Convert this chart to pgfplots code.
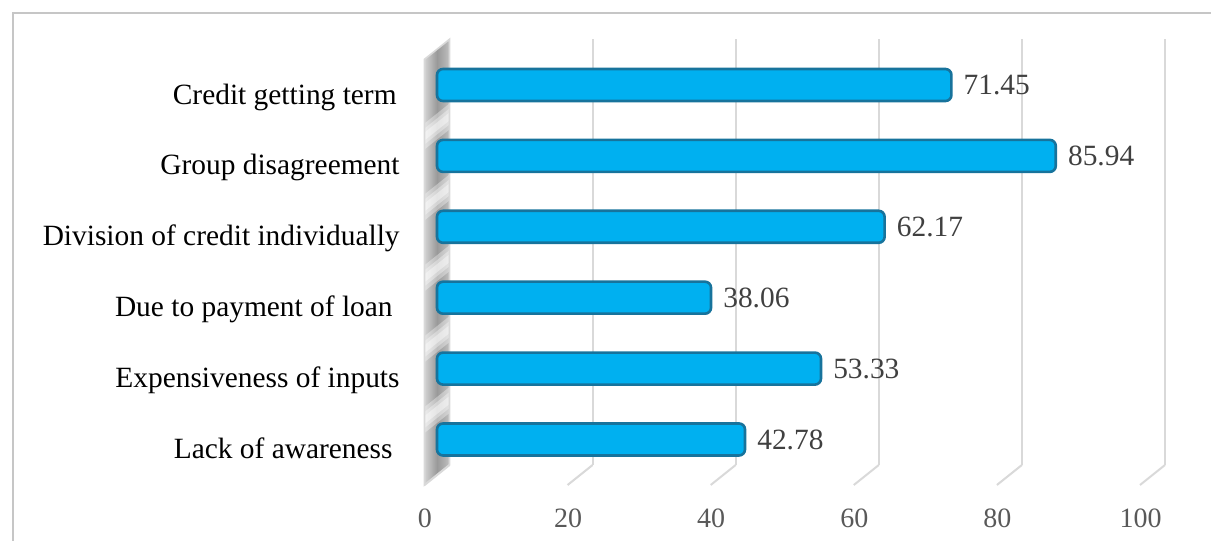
\documentclass[border=0pt]{standalone}
\usepackage{fontspec}
\setmainfont{Liberation Serif}
\usepackage{pgfplots}
\usepackage{pgfplotstable}
\pgfplotsset{compat=1.18}
\definecolor{gridc}{HTML}{D9D9D9}
\definecolor{barc}{HTML}{00B0F0}
\definecolor{bare}{HTML}{17739C}
\definecolor{tickc}{HTML}{595959}
\definecolor{valc}{HTML}{404040}

\pgfplotstableread{
y v
0 42.78
1 53.33
2 38.06
3 62.17
4 85.94
5 71.45
}\datatable

\begin{document}
\begin{tikzpicture}
\path[use as bounding box] (0,0) rectangle (605.5pt,270.5pt);
\draw[gray!45, line width=1pt] (6.5pt,-5pt) -- (6.5pt,264pt) -- (620pt,264pt);
\begin{axis}[
 at={(224.75pt,38pt)}, anchor=south west, scale only axis,
 width=357.75pt, height=212.85pt,
 xmin=0, xmax=100, ymin=-0.36, ymax=5.645,
 axis line style={draw=none}, major tick length=0pt,
 xtick={0,20,...,100}, ytick={0,1,2,3,4,5},
 yticklabels={Lack of awareness\rule{3.5pt}{0pt}, Expensiveness of inputs, Due to payment of loan\rule{3.5pt}{0pt}, Division of credit individually, Group disagreement, Credit getting term\rule{1.5pt}{0pt}},
 xmajorgrids, grid style={gridc, line width=1pt},
 xticklabel style={anchor=center, xshift=-12.25pt, yshift=-26.5pt, text=tickc, font=\fontsize{14}{16}\selectfont},
 yticklabel style={anchor=base east, inner sep=0pt, xshift=-24.75pt, yshift=-9.5pt, font=\fontsize{14.7}{17}\selectfont},
 /pgf/number format/assume math mode=true,
 clip=false,
]
\path (axis cs:0,-0.36) coordinate (B) (axis cs:0,5.645) coordinate (T);
\shade[left color=gray!35, right color=gray!50, middle color=gray!80]
  (B) -- (T) -- ([shift={(-12.5pt,-10pt)}]T) -- ([shift={(-12.5pt,-10pt)}]B) -- cycle;
\pgfplotsinvokeforeach{0.5,1.5,2.5,3.5,4.5}{
  \fill[white, opacity=0.35] ([yshift=8.5pt]axis cs:0,#1) -- ([yshift=-4.5pt]axis cs:0,#1) -- ++(-12.5pt,-10pt) -- ([shift={(-12.5pt,-1.5pt)}]axis cs:0,#1) -- cycle;
  \fill[white, opacity=0.35] ([yshift=6pt]axis cs:0,#1) -- ([yshift=-2pt]axis cs:0,#1) -- ++(-12.5pt,-10pt) -- ([shift={(-12.5pt,-4pt)}]axis cs:0,#1) -- cycle;
  \fill[white, opacity=0.4] ([yshift=4pt]axis cs:0,#1) -- ([yshift=0pt]axis cs:0,#1) -- ++(-12.5pt,-10pt) -- ([shift={(-12.5pt,-6pt)}]axis cs:0,#1) -- cycle;
}
\draw[gridc, line width=0.8pt] (B) -- (T) -- ([shift={(-12.5pt,-10pt)}]T) -- ([shift={(-12.5pt,-10pt)}]B) -- cycle;
\pgfplotsinvokeforeach{0,20,40,60,80,100}{\draw[gridc, line width=1pt] (axis cs:#1,-0.36) -- ++(-12.5pt,-10pt);}
\end{axis}
\begin{axis}[
 at={(218.5pt,38pt)}, anchor=south west, scale only axis,
 width=360pt, height=212.85pt,
 xmin=0, xmax=100, ymin=-0.36, ymax=5.645,
 hide axis, clip=false, xbar, bar width=16pt,
 point meta=x,
 nodes near coords={\pgfmathprintnumber[fixed,fixed zerofill,precision=2,assume math mode=true]{\pgfplotspointmeta}},
 nodes near coords style={anchor=west, inner sep=0pt, xshift=5.5pt, text=valc, font=\fontsize{14.7}{17}\selectfont},
]
\addplot[fill=barc, draw=bare, line width=1.3pt, rounded corners=3pt] table[x=v,y=y]{\datatable};
\end{axis}
\end{tikzpicture}
\end{document}
